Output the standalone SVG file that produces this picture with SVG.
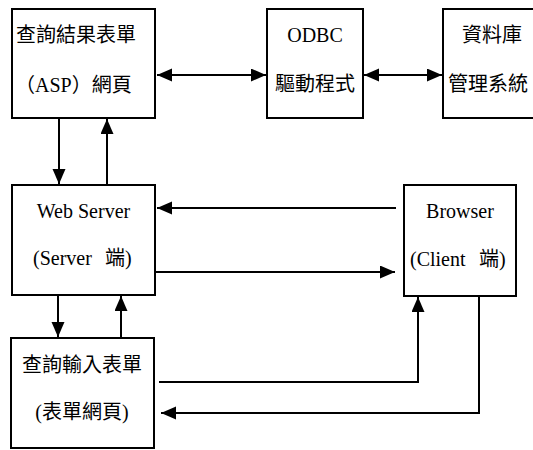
<svg xmlns="http://www.w3.org/2000/svg" width="533" height="450" viewBox="0 0 533 450">
<defs>
<style>
.box{fill:#fff;stroke:#000;stroke-width:2}
.t{font-family:"Liberation Serif","Noto Sans CJK TC",serif;font-size:20px;fill:#000}
.m{text-anchor:middle}
.c{fill:none;stroke:#000;stroke-width:2}
</style>
<marker id="ah" markerUnits="userSpaceOnUse" markerWidth="16" markerHeight="14" refX="15" refY="6.5" orient="auto-start-reverse" viewBox="0 0 16 14">
<path d="M0,0 L15,6.5 L0,13 z" fill="#000"/>
</marker>
</defs>
<rect width="533" height="450" fill="#fff"/>
<g id="connectors">
<line class="c" x1="157" y1="75" x2="266" y2="75" marker-start="url(#ah)" marker-end="url(#ah)"/>
<line class="c" x1="364" y1="75" x2="442" y2="75" marker-start="url(#ah)" marker-end="url(#ah)"/>
<line class="c" x1="59" y1="118" x2="59" y2="184" marker-end="url(#ah)"/>
<line class="c" x1="107" y1="185" x2="107" y2="119" marker-end="url(#ah)"/>
<line class="c" x1="396" y1="208" x2="157" y2="208" marker-end="url(#ah)"/>
<line class="c" x1="156" y1="272" x2="395" y2="272" marker-end="url(#ah)"/>
<line class="c" x1="58" y1="295" x2="58" y2="337" marker-end="url(#ah)"/>
<line class="c" x1="121" y1="338" x2="121" y2="296" marker-end="url(#ah)"/>
<path class="c" d="M159,382 H418 V297" marker-end="url(#ah)"/>
<path class="c" d="M479,296 V413 H161" marker-end="url(#ah)"/>
</g>
<g id="result-page">
<rect class="box" x="12" y="9" width="143" height="109"/>
<text class="t" x="16" y="42">查詢結果表單</text>
<text class="t" x="15" y="92">（ASP）網頁</text>
</g>
<g id="odbc">
<rect class="box" x="267" y="9" width="96" height="109"/>
<text class="t m" x="315" y="42">ODBC</text>
<text class="t m" x="315" y="91">驅動程式</text>
</g>
<g id="dbms">
<rect class="box" x="443" y="9" width="100" height="109"/>
<text class="t" x="462" y="42">資料庫</text>
<text class="t" x="448" y="91">管理系統</text>
</g>
<g id="web-server">
<rect class="box" x="12" y="185" width="143" height="110"/>
<text class="t m" x="83.5" y="218">Web Server</text>
<text class="t" x="33" y="265">(Server<tspan x="105">端)</tspan></text>
</g>
<g id="browser">
<rect class="box" x="404" y="185" width="112" height="111"/>
<text class="t m" x="460" y="218">Browser</text>
<text class="t" x="410" y="266">(Client<tspan x="479">端)</tspan></text>
</g>
<g id="input-form">
<rect class="box" x="11" y="338" width="143" height="110"/>
<text class="t" x="22" y="372">查詢輸入表單</text>
<text class="t m" x="82" y="419">(表單網頁)</text>
</g>
</svg>
